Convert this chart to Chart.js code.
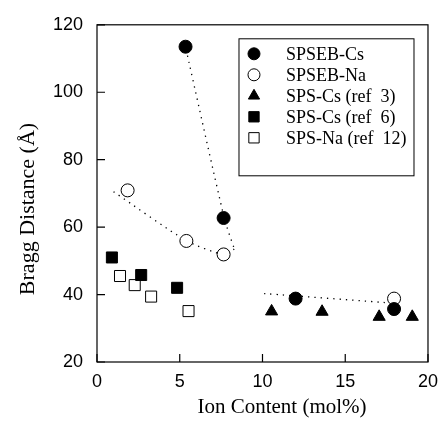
<!DOCTYPE html>
<html>
<head>
<meta charset="utf-8">
<script src="https://cdn.jsdelivr.net/npm/chart.js@4.4.1/dist/chart.umd.min.js"></script>
<style>
  html, body { margin: 0; padding: 0; background: #fff; }
  canvas { display: block; }
</style>
</head>
<body>
<canvas id="chart" width="447" height="433"></canvas>
<script>
// ---- data ----
const spsebCsX = [5.35, 7.65, 12.0, 17.95];
const spsebCsY = [113.5, 62.7, 38.8, 35.7];

const spsebNaX = [1.85, 5.4, 7.65, 17.95];
const spsebNaY = [70.9, 55.9, 51.9, 38.8];

const spsCs3X = [10.55, 13.6, 17.05, 19.05];
const spsCs3Y = [35.0, 34.9, 33.4, 33.4];

const spsCs6X = [0.9, 2.67, 4.84];
const spsCs6Y = [51.0, 45.8, 42.0];

const spsNa12X = [1.39, 2.28, 3.27, 5.53];
const spsNa12Y = [45.5, 42.8, 39.4, 35.1];

// dotted guide lines
const guideCsX = [5.3, 7.7, 8.3];
const guideCsY = [114.5, 62.5, 53.5];
const guideNaX = [1.0, 5.4, 7.7, 8.3];
const guideNaY = [70.5, 56.0, 51.8, 53.5];
const guideHiX = [10.1, 18.3];
const guideHiY = [40.3, 37.3];

const xTicks = [0, 5, 10, 15, 20];
const yTicks = [20, 40, 60, 80, 100, 120];

const xTitle = 'Ion Content (mol%)';
const yTitle = 'Bragg Distance (Å)';

const pts = (xs, ys) => xs.map((x, i) => ({ x, y: ys[i] }));

function markerSet(label, xs, ys, style, filled, radius) {
  return {
    label,
    data: pts(xs, ys),
    showLine: false,
    pointStyle: style,
    pointRadius: radius,
    pointHoverRadius: radius,
    pointBackgroundColor: filled ? '#000' : '#fff',
    pointBorderColor: '#000',
    pointBorderWidth: 1,
    _legend: true
  };
}

function guideSet(xs, ys) {
  return {
    label: '',
    data: pts(xs, ys),
    showLine: true,
    borderColor: '#000',
    borderWidth: 1.3,
    borderDash: [1.3, 5],
    pointRadius: 0,
    tension: 0.25,
    _legend: false
  };
}

const SERIF = '"Liberation Serif", "Times New Roman", serif';
const SANS = '"Liberation Sans", Arial, sans-serif';

// frame + inward tick marks + axis titles
const framePlugin = {
  id: 'frame',
  afterDraw(chart) {
    const { ctx, chartArea: a, scales } = chart;
    ctx.save();
    ctx.strokeStyle = '#000';
    ctx.lineWidth = 1.2;
    ctx.strokeRect(a.left, a.top, a.right - a.left, a.bottom - a.top);
    ctx.beginPath();
    xTicks.forEach(v => {
      const px = scales.x.getPixelForValue(v);
      ctx.moveTo(px, a.bottom);
      ctx.lineTo(px, a.bottom - 8);
    });
    yTicks.forEach(v => {
      const py = scales.y.getPixelForValue(v);
      ctx.moveTo(a.left, py);
      ctx.lineTo(a.left + 8, py);
    });
    ctx.stroke();

    ctx.fillStyle = '#000';
    ctx.textAlign = 'center';
    ctx.textBaseline = 'middle';
    ctx.font = '21px ' + SERIF;
    ctx.fillText(xTitle, 282, 407);
    ctx.translate(28, 209);
    ctx.rotate(-Math.PI / 2);
    ctx.font = '22px ' + SERIF;
    ctx.fillText(yTitle, 0, 0);
    ctx.restore();
  }
};

// boxed legend inside the plot
const legendPlugin = {
  id: 'boxLegend',
  afterDraw(chart) {
    const { ctx, chartArea: a } = chart;
    const right = a.right - 14, top = a.top + 14;
    const left = right - 175, bottom = top + 137;
    ctx.save();
    ctx.fillStyle = '#fff';
    ctx.fillRect(left, top, right - left, bottom - top);
    ctx.strokeStyle = '#000';
    ctx.lineWidth = 1;
    ctx.strokeRect(left, top, right - left, bottom - top);
    ctx.font = '18px ' + SERIF;
    ctx.textAlign = 'left';
    ctx.textBaseline = 'middle';
    let row = 0;
    chart.data.datasets.forEach(ds => {
      if (!ds._legend) return;
      const y = top + 15 + row * 21;
      ctx.fillStyle = ds.pointBackgroundColor;
      ctx.strokeStyle = '#000';
      ctx.lineWidth = 1;
      Chart.helpers.drawPoint(ctx, {
        pointStyle: ds.pointStyle,
        radius: ds.pointRadius - 0.5,
        rotation: 0,
        borderWidth: 1
      }, left + 15, y);
      ctx.fillStyle = '#000';
      ctx.fillText(ds.label, left + 47, y + 1);
      row++;
    });
    ctx.restore();
  }
};

new Chart(document.getElementById('chart'), {
  type: 'scatter',
  data: {
    datasets: [
      markerSet('SPSEB-Cs', spsebCsX, spsebCsY, 'circle', true, 6.5),
      markerSet('SPSEB-Na', spsebNaX, spsebNaY, 'circle', false, 6.5),
      markerSet('SPS-Cs (ref  3)', spsCs3X, spsCs3Y, 'triangle', true, 7),
      markerSet('SPS-Cs (ref  6)', spsCs6X, spsCs6Y, 'rect', true, 7.8),
      markerSet('SPS-Na (ref  12)', spsNa12X, spsNa12Y, 'rect', false, 7.8),
      guideSet(guideCsX, guideCsY),
      guideSet(guideNaX, guideNaY),
      guideSet(guideHiX, guideHiY)
    ]
  },
  options: {
    responsive: false,
    devicePixelRatio: 1,
    animation: false,
    layout: { padding: { left: 0, right: 13, top: 24, bottom: 0 } },
    plugins: {
      legend: { display: false },
      tooltip: { enabled: false }
    },
    scales: {
      x: {
        type: 'linear',
        min: 0, max: 20,
        afterFit: s => { s.height = 71; },
        afterBuildTicks: s => { s.ticks = xTicks.map(v => ({ value: v })); },
        grid: { display: false, drawTicks: false },
        border: { display: false },
        ticks: { color: '#000', padding: 9, font: { family: SANS, size: 18 } }
      },
      y: {
        type: 'linear',
        min: 20, max: 120,
        afterFit: s => { s.width = 97; },
        afterBuildTicks: s => { s.ticks = yTicks.map(v => ({ value: v })); },
        grid: { display: false, drawTicks: false },
        border: { display: false },
        ticks: { color: '#000', padding: 14, font: { family: SANS, size: 18 } }
      }
    }
  },
  plugins: [framePlugin, legendPlugin]
});
</script>
</body>
</html>
